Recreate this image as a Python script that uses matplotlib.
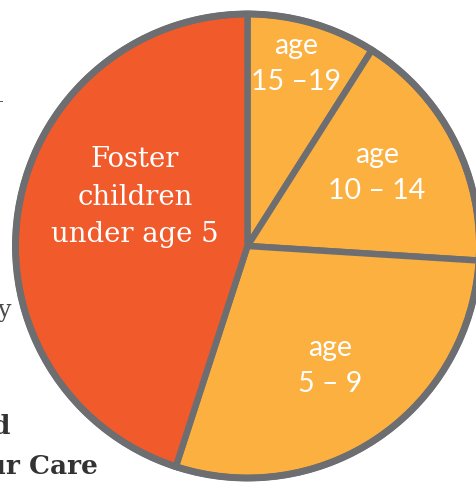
import matplotlib
matplotlib.use("Agg")
import matplotlib.pyplot as plt

# Data (clockwise from 12 o'clock)
labels = ["age\n15 –19", "age\n10 – 14", "age\n5 – 9", "Foster\nchildren\nunder age 5"]
shares = [9, 17, 29, 45]
colors = ["#FBB040", "#FBB040", "#FBB040", "#F15A2B"]

W, H = 476, 491
fig = plt.figure(figsize=(W / 100, H / 100), dpi=100)
ax = fig.add_axes([0, 0, 1, 1])

cx, cy, r = 247.5, H - 246, 232

# background page text (partially hidden)
ax.text(12, H - 310, "y", ha="right", va="center", fontsize=17, color="#4a4a4a",
        family="DejaVu Serif", zorder=0)
ax.text(10, H - 427, "d", ha="right", va="center", fontsize=19, color="#333333",
        family="DejaVu Serif", fontweight="bold", zorder=0)
ax.text(98, H - 466, "ur Care", ha="right", va="center", fontsize=19, color="#333333",
        family="DejaVu Serif", fontweight="bold", zorder=0)
ax.text(3.5, H - 101, "–", ha="right", va="center", fontsize=8, color="#333333",
        family="DejaVu Sans", zorder=0)

wedges, _ = ax.pie(shares, colors=colors, startangle=90, counterclock=False,
                   center=(cx, cy), radius=r, frame=True,
                   wedgeprops=dict(edgecolor="#6D6E71", linewidth=4.6, joinstyle="miter"))
for w in wedges:
    w.set_zorder(2)
ax.set_xlim(0, W)
ax.set_ylim(0, H)
ax.set_aspect("equal")
ax.axis("off")

# outer ring
circ = plt.Circle((cx, cy), r, fill=False, edgecolor="#6D6E71", linewidth=5.0, zorder=3)
ax.add_patch(circ)

# labels
label_pos = [(296, H - 64), (377, H - 173), (330, H - 366), (135, H - 197)]
for i, (lab, (x, y)) in enumerate(zip(labels, label_pos)):
    if i < 3:
        ax.text(x, y, lab, ha="center", va="center", color="white", fontsize=20.5,
                family="Lato", linespacing=1.5, zorder=5)
    else:
        ax.text(x, y, lab, ha="center", va="center", color="white", fontsize=19.8,
                family="DejaVu Serif", linespacing=1.5, zorder=5)

fig.savefig("out.png", dpi=100)
